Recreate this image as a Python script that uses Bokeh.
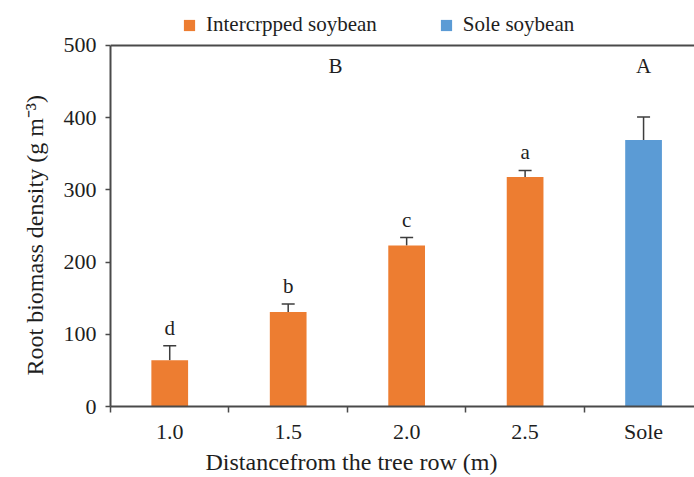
from bokeh.plotting import figure
from bokeh.models import (ColumnDataSource, Range1d, FixedTicker, Span, Whisker,
                          TeeHead, Legend, LegendItem, Title)
from bokeh.core.properties import value
from bokeh.embed import file_html
from bokeh.resources import INLINE

# ---- data ----
categories = ["1.0", "1.5", "2.0", "2.5", "Sole"]
means = [64, 131, 223, 318, 369]
errors = [20, 11, 11, 9, 32]
letters = ["d", "b", "c", "a", ""]
groups = ["Intercrpped soybean", "Intercrpped soybean", "Intercrpped soybean",
          "Intercrpped soybean", "Sole soybean"]
group_letters = ["B", "A"]
y_ticks = [0, 100, 200, 300, 400, 500]
x_label = "Distancefrom the tree row (m)"
y_label = "Root biomass density (g m\u207b\u00b3)"

ORANGE = "#ED7D31"
BLUE = "#5B9BD5"
FONT = "Liberation Serif"
TXT = "#1e1e1e"
AX = "#4a4a4a"

xs = [i + 0.5 for i in range(len(categories))]
colors = [ORANGE if g.startswith("Inter") else BLUE for g in groups]
upper = [m + e for m, e in zip(means, errors)]
src = ColumnDataSource(dict(x=xs, mean=means, upper=upper, color=colors,
                            letter=letters, group=groups))

# frame reaches the top of the figure so the legend can sit inside it
p = figure(output_backend="svg", toolbar_location=None,
           frame_width=584, frame_height=406,
           min_border_left=110, min_border_top=0, min_border_bottom=70,
           min_border_right=0,
           x_range=Range1d(0, 4.93), y_range=Range1d(0, 562.3))
p.outline_line_color = None
p.xgrid.visible = False
p.ygrid.visible = False
p.background_fill_color = "white"

inter = [i for i, g in enumerate(groups) if g.startswith("Inter")]
sole = [i for i, g in enumerate(groups) if not g.startswith("Inter")]
src_i = ColumnDataSource(dict(x=[xs[i] for i in inter], top=[means[i] for i in inter]))
src_s = ColumnDataSource(dict(x=[xs[i] for i in sole], top=[means[i] for i in sole]))
r1 = p.vbar(x="x", top="top", width=0.31, source=src_i, fill_color=ORANGE, line_color=None)
r2 = p.vbar(x="x", top="top", width=0.31, source=src_s, fill_color=BLUE, line_color=None)

w = Whisker(source=src, base="x", lower="mean", upper="upper", dimension="height",
            line_color="#3d3d3d", line_width=1.5,
            upper_head=TeeHead(size=13, line_color="#3d3d3d", line_width=1.5),
            lower_head=None)
p.add_layout(w)

# letters above error bars
p.text(x="x", y="upper", text="letter", source=src, text_align="center",
       text_baseline="middle", y_offset=-18, text_font=value(FONT),
       text_font_size="21px", text_color=TXT)

# group letters
p.text(x=[1.9, xs[-1]], y=[472, 472], text=group_letters, text_align="center",
       text_baseline="middle", text_font=value(FONT), text_font_size="21px",
       text_color=TXT)

# top line at 500
p.add_layout(Span(location=500, dimension="width", line_color=AX, line_width=2))

# x axis
xa = p.xaxis[0]
xa.ticker = FixedTicker(ticks=xs, minor_ticks=list(range(len(categories) + 1)))
xa.major_label_overrides = {x: c for x, c in zip(xs, categories)}
xa.major_tick_out = 0
xa.major_tick_in = 0
xa.minor_tick_out = 6
xa.minor_tick_in = 0
xa.minor_tick_line_color = AX
xa.minor_tick_line_width = 1.5
xa.axis_line_color = AX
xa.axis_line_width = 2
xa.major_label_text_font = FONT
xa.major_label_text_font_size = "22px"
xa.major_label_text_color = TXT
xa.major_label_standoff = 6

# y axis
ya = p.yaxis[0]
ya.ticker = FixedTicker(ticks=y_ticks)
ya.bounds = (0, 500)
ya.major_tick_out = 5
ya.major_tick_in = 0
ya.minor_tick_out = 0
ya.minor_tick_in = 0
ya.major_tick_line_color = AX
ya.major_tick_line_width = 1.5
ya.axis_line_color = AX
ya.axis_line_width = 2
ya.major_label_text_font = FONT
ya.major_label_text_font_size = "22px"
ya.major_label_text_color = TXT
ya.major_label_standoff = 9

# axis labels as side titles so they can be offset like the reference
p.add_layout(Title(text=y_label, align="left", offset=31, text_font=FONT,
                   text_font_size="24px", text_font_style="normal",
                   text_color=TXT, standoff=25), "left")
p.add_layout(Title(text=x_label, align="left", offset=95, text_font=FONT,
                   text_font_size="24px", text_font_style="normal",
                   text_color=TXT, standoff=1), "below")

# legend (inside the frame, above the 500 line)
legend = Legend(items=[LegendItem(label="Intercrpped soybean", renderers=[r1]),
                       LegendItem(label="Sole soybean", renderers=[r2])],
                orientation="horizontal", location=(72, 369),
                glyph_width=14, glyph_height=14, label_standoff=10, spacing=62,
                padding=0, margin=0, border_line_color=None,
                background_fill_alpha=0, label_text_font=FONT,
                label_text_font_size="21px", label_text_color=TXT)
p.add_layout(legend)

open("out.html", "w").write(file_html(p, INLINE))
